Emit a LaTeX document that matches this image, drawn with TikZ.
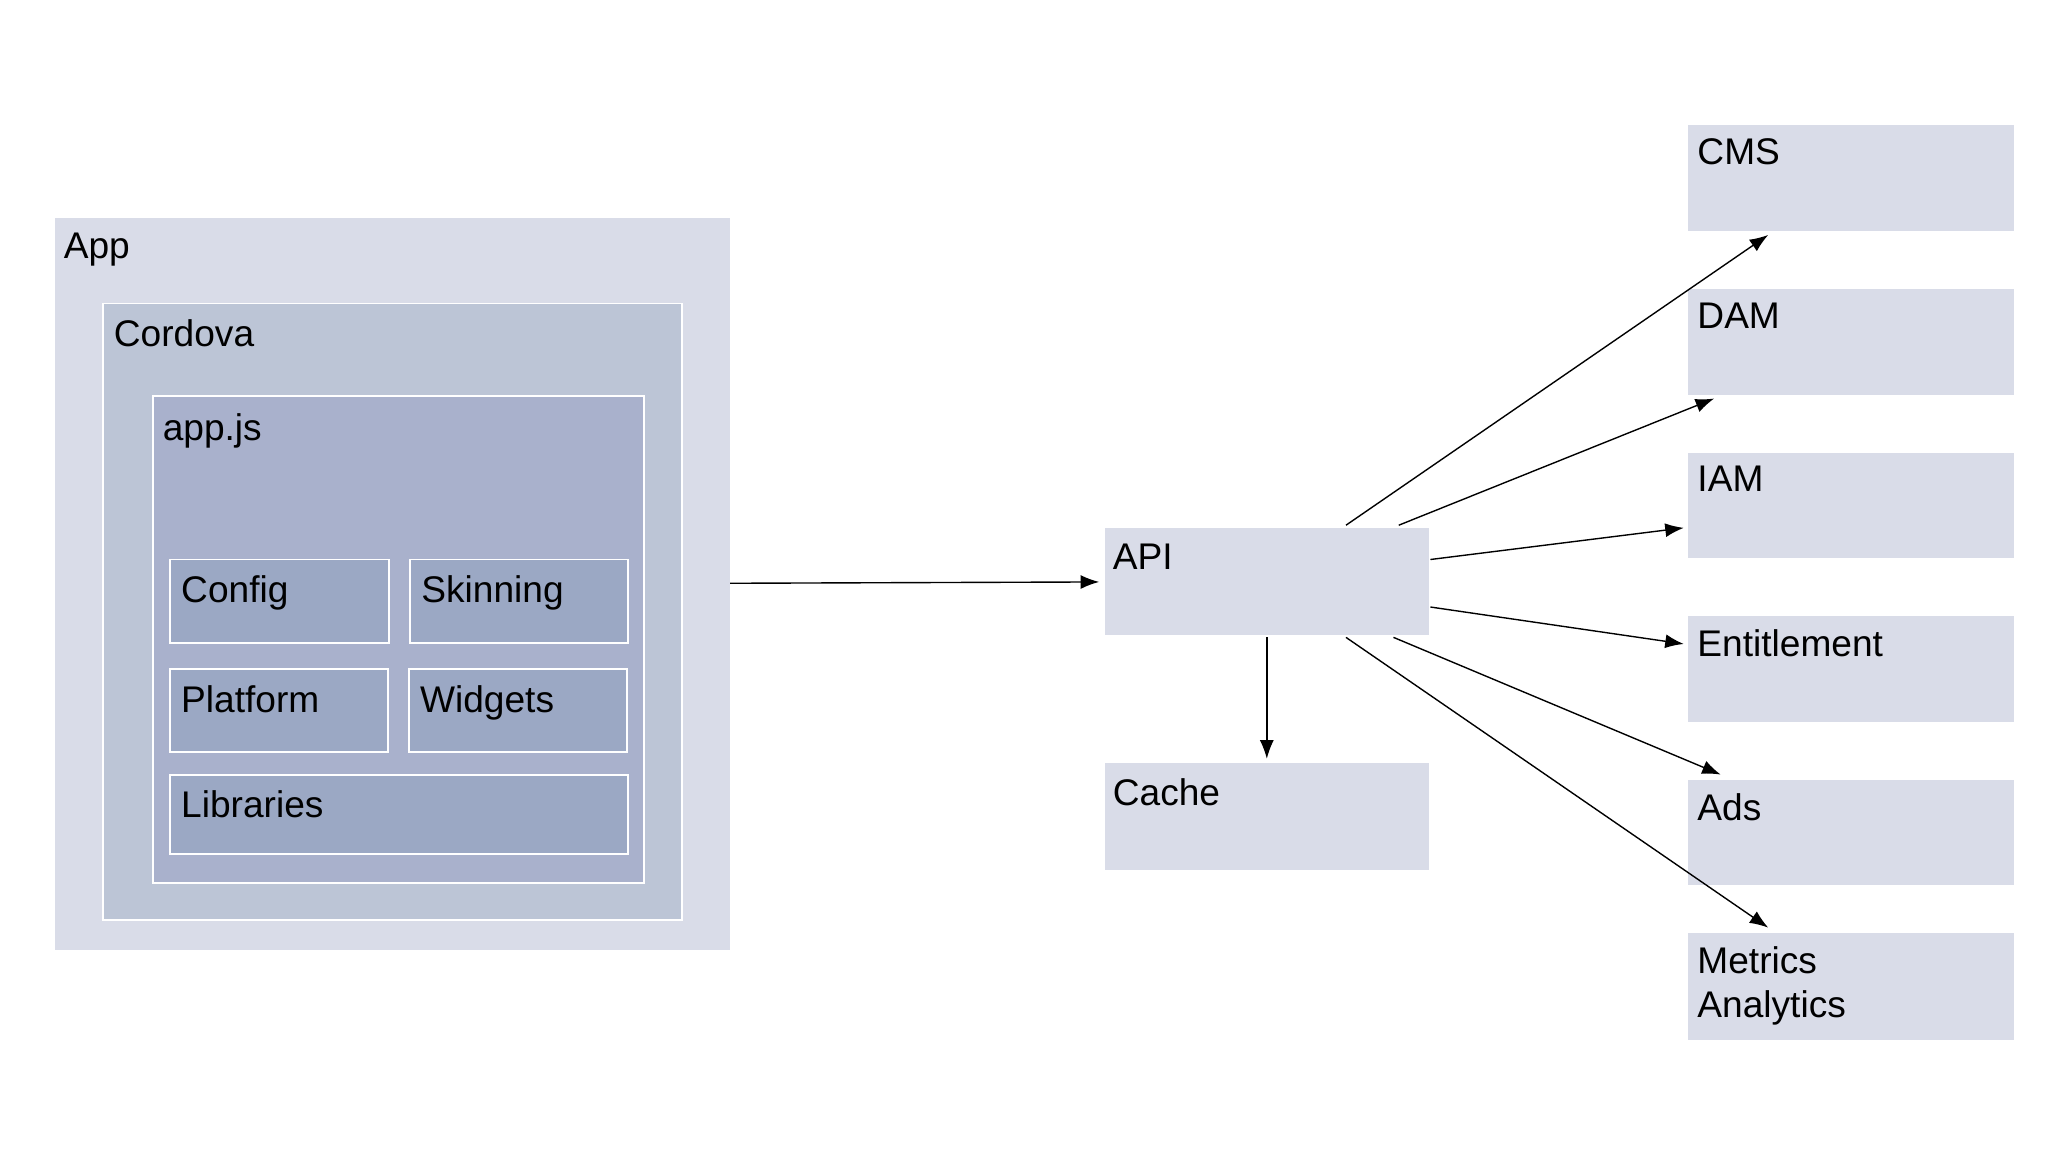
\documentclass[tikz,border=0pt]{standalone}
\usepackage{fontspec}
\setmainfont{Liberation Sans}
\usetikzlibrary{fit,arrows.meta}
\definecolor{outerfill}{HTML}{D9DCE8}
\definecolor{cordfill}{HTML}{BCC5D6}
\definecolor{jsfill}{HTML}{A9B1CC}
\definecolor{modfill}{HTML}{9BA8C4}
\tikzset{
  box/.style={inner sep=0pt, draw=none, fill=outerfill},
  inbox/.style={inner sep=0pt, draw=white, line width=0.8pt},
  txt/.style={anchor=north west, inner sep=0pt, font=\fontsize{16}{19}\selectfont, align=left},
  link/.style={-{Latex[length=8pt,width=6pt]}, line width=0.6pt}
}
\begin{document}
\begin{tikzpicture}[x=0.02cm,y=-0.02cm]
    \useasboundingbox (0,0) rectangle (1552,873);
    % app side
    \node[box, fit={(42,165)(553,720)}] (app) {};
    \node[txt] (apptxt) at (48,176) {App};
    \node[inbox, fill=cordfill, fit={(78,230)(517,697)}] (cordova) {};
    \node[txt] (cordtxt) at (86,242) {Cordova};
    \node[inbox, fill=jsfill, fit={(116,300)(488,669)}] (appjs) {};
    \node[txt] (jstxt) at (123,313) {app.js};
    \foreach \nm/\xa/\ya/\xb/\yb/\lab in {config/129/424/295/487/Config, skin/311/424/476/487/Skinning,
        platform/129/507/294/570/Platform, widgets/310/507/475/570/Widgets, libs/129/587/476/647/Libraries}{
        \node[inbox, fill=modfill, fit={(\xa,\ya)(\xb,\yb)}] (\nm) {};
        \node[txt] at (\xa+8,\ya+12) {\lab};
    }
    % services
    \node[box, fit={(837,400)(1083,481)}] (api) {};
    \node[txt] at (843,412) {API};
    \node[box, fit={(837,578)(1083,659)}] (cache) {};
    \node[txt] at (843,590) {Cache};
    \foreach \nm/\ya/\yb/\lab in {cms/95/175/CMS, dam/219/299/DAM, iam/343/423/IAM,
        ent/467/547/Entitlement, ads/591/671/Ads, metrics/707/788/{Metrics\\Analytics}}{
        \node[box, fit={(1279,\ya)(1526,\yb)}] (\nm) {};
        \node[txt] at (1286,\ya+10) {\lab};
    }
    % connectors
    \coordinate (a1) at (1020,398);
    \coordinate (a2) at (1060,398);
    \coordinate (a3) at (1084,424);
    \coordinate (a4) at (1084,460);
    \coordinate (a5) at (1056,483);
    \coordinate (a6) at (1020,483);
    \coordinate (a7) at (960,483);
    \coordinate (c7) at (960,575);
    \draw[link] (app.east |- 0,442) -- (833,441);
    \draw[link] (a7) -- (c7);
    \draw[link] (a1) -- (1340,178);
    \draw[link] (a2) -- (1299,302);
    \draw[link] (a3) -- (1276,400);
    \draw[link] (a4) -- (1276,488);
    \draw[link] (a5) -- (1304,587);
    \draw[link] (a6) -- (1340,703);
\end{tikzpicture}
\end{document}
